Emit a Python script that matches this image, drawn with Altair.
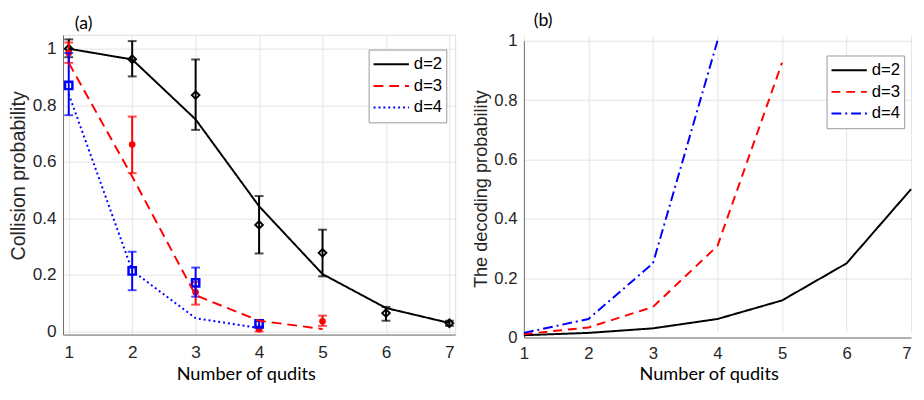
import altair as alt
import pandas as pd

# ---------------- data ----------------
qudits = [1, 2, 3, 4, 5, 6, 7]
series = ["d=2", "d=3", "d=4"]
series_colors = ["#000000", "#ff0000", "#0000ff"]

# (a) theoretical collision probability (lines)
a_theory_d2 = [1.0, 0.962, 0.75, 0.443, 0.203, 0.083, 0.03]
a_theory_d3 = [0.95, 0.548, 0.128, 0.038, 0.009]
a_theory_d4 = [0.84, 0.215, 0.047, 0.012]

# (a) measured collision probability with error bars
a_exp_d2 = [1.0, 0.963, 0.836, 0.377, 0.278, 0.065, 0.029]
a_lo_d2 = [0.97, 0.902, 0.713, 0.276, 0.195, 0.038, 0.02]
a_hi_d2 = [1.033, 1.027, 0.962, 0.479, 0.36, 0.087, 0.038]

a_exp_d3 = [0.985, 0.661, 0.139, 0.008, 0.036]
a_lo_d3 = [0.95, 0.56, 0.095, 0.0, 0.02]
a_hi_d3 = [1.022, 0.76, 0.175, 0.015, 0.056]

a_exp_d4 = [0.87, 0.214, 0.172, 0.027]
a_lo_d4 = [0.765, 0.146, 0.123, 0.018]
a_hi_d4 = [0.985, 0.282, 0.226, 0.036]

# (b) decoding probability
b_d2 = [0.0078, 0.0156, 0.031, 0.0625, 0.125, 0.25, 0.5]
b_d3 = [0.0114, 0.034, 0.103, 0.309, 0.926]
b_d4 = [0.0156, 0.0625, 0.25, 1.0]

a_ticks_y = [0, 0.2, 0.4, 0.6, 0.8, 1]

# ---------------- tables ----------------
def lines_df(pairs):
    rows = []
    for name, vals in pairs:
        for n, v in zip(qudits, vals):
            rows.append({"n": n, "p": v, "d": name})
    return pd.DataFrame(rows)


def exp_df(name, vals, lo, hi):
    return pd.DataFrame({"n": qudits[:len(vals)], "p": vals, "lo": lo, "hi": hi, "d": name})


theory_a = lines_df([("d=2", a_theory_d2), ("d=3", a_theory_d3), ("d=4", a_theory_d4)])
exp_a = [
    exp_df("d=2", a_exp_d2, a_lo_d2, a_hi_d2),
    exp_df("d=3", a_exp_d3, a_lo_d3, a_hi_d3),
    exp_df("d=4", a_exp_d4, a_lo_d4, a_hi_d4),
]
theory_b = lines_df([("d=2", b_d2), ("d=3", b_d3), ("d=4", b_d4)])

# ---------------- styling ----------------
FONT = "Liberation Sans"
TFONT = "Lato"
GRID = "#e3e3e3"
DOMAIN = "#6e6e6e"
LABEL = "#262626"


def make_legend(lx, ly):
    return alt.Legend(
        title=None, orient="none", legendX=lx, legendY=ly, direction="vertical",
        symbolType="stroke", symbolSize=1296, symbolStrokeWidth=2, clipHeight=22,
        labelFont=FONT, labelFontSize=17, labelColor="black", labelOffset=4,
        padding=4, rowPadding=0, strokeColor="#999999", fillColor="white",
    )


def x_axis(title_x, title_y, label_pad, size, align="center"):
    return alt.Axis(
        values=qudits, format="d", title="Number of qudits",
        titleFont=TFONT, titleFontSize=18.5, titleFontWeight="normal", titleColor="black",
        titleX=title_x, titleY=title_y, titleBaseline="middle", titleAlign="center",
        labelFont=FONT, labelFontSize=size, labelColor=LABEL, labelPadding=label_pad,
        labelAlign=align,
        labelFlush=False, labelOverlap=False, ticks=False,
        grid=True, gridColor=GRID, domainColor=DOMAIN, domainWidth=1,
    )


def y_axis(title, title_x, title_y, title_size, size):
    return alt.Axis(
        values=a_ticks_y, format=".1~f", title=title,
        titleFont=FONT, titleFontSize=title_size, titleFontWeight="normal", titleColor=LABEL,
        titleX=title_x, titleY=title_y, titleBaseline="middle", titleAlign="center", titleAngle=270,
        labelFont=FONT, labelFontSize=size, labelColor=LABEL, labelPadding=7,
        labelOverlap=False, ticks=False,
        grid=True, gridColor=GRID, domainColor=DOMAIN, domainWidth=1,
    )


# ---------------- panel (a) ----------------
xs_a = alt.Scale(domain=[0.91, 7.09], nice=False, zero=False)
ys_a = alt.Scale(domain=[-0.011, 1.049], nice=False, zero=False)
xa_axis = x_axis(186, 40, 9, 17.5)
ya_axis = y_axis("Collision probability", -44.7, 143, 20, 17.5)
leg_a = make_legend(311, 15)

lines_a = alt.Chart(theory_a).mark_line(strokeWidth=2).encode(
    x=alt.X("n:Q", scale=xs_a, axis=xa_axis),
    y=alt.Y("p:Q", scale=ys_a, axis=ya_axis),
    color=alt.Color("d:N", scale=alt.Scale(domain=series, range=series_colors), legend=leg_a),
    strokeDash=alt.StrokeDash("d:N", scale=alt.Scale(domain=series, range=[[1, 0], [10, 6], [2, 3]]), legend=leg_a),
)

marker_styles = [
    dict(shape="diamond", filled=False, size=60, strokeWidth=2),
    dict(shape="circle", filled=True, size=45),
    dict(shape="square", filled=False, size=55, strokeWidth=2.5),
]

layers_a = []
for df, col, ms in zip(exp_a, series_colors, marker_styles):
    base = alt.Chart(df)
    xe = alt.X("n:Q", scale=xs_a, axis=xa_axis)
    bar = base.mark_rule(color=col, strokeWidth=2).encode(
        x=xe, y=alt.Y("lo:Q", scale=ys_a, axis=ya_axis), y2="hi:Q")
    cap_lo = base.mark_tick(orient="horizontal", size=9, thickness=2, color=col).encode(
        x=xe, y=alt.Y("lo:Q", scale=ys_a, axis=ya_axis))
    cap_hi = base.mark_tick(orient="horizontal", size=9, thickness=2, color=col).encode(
        x=xe, y=alt.Y("hi:Q", scale=ys_a, axis=ya_axis))
    pts = base.mark_point(color=col, opacity=1, **ms).encode(
        x=xe, y=alt.Y("p:Q", scale=ys_a, axis=ya_axis))
    layers_a += [bar, cap_lo, cap_hi, pts]

panel_a = alt.layer(*layers_a, lines_a).properties(
    width=399, height=305,
    title=alt.TitleParams("(a)", anchor="start", dx=12, offset=2, frame="group",
                          font=TFONT, fontSize=18, fontWeight="normal", color="black"),
)

# ---------------- panel (b) ----------------
# plot group is 308 px tall; the value axis runs from 6 px below its top to its bottom
xs_b = alt.Scale(domain=[1, 7], nice=False, zero=False)
ys_b = alt.Scale(domain=[0, 1], nice=False, zero=False, range=[308, 6])
leg_b = make_legend(308, 21)
last_label_right = {"condition": {"test": "datum.value >= 7", "value": "right"}, "value": "center"}

panel_b = alt.Chart(theory_b).mark_line(strokeWidth=2).encode(
    x=alt.X("n:Q", scale=xs_b, axis=x_axis(188, 37, 8, 17, last_label_right)),
    y=alt.Y("p:Q", scale=ys_b, axis=y_axis("The decoding probability", -44, 156.5, 18.5, 17)),
    color=alt.Color("d:N", scale=alt.Scale(domain=series, range=series_colors), legend=leg_b),
    strokeDash=alt.StrokeDash("d:N", scale=alt.Scale(domain=series, range=[[1, 0], [9, 6], [10, 4, 2, 4]]), legend=leg_b),
).properties(
    width=394, height=308,
    view=alt.ViewBackground(stroke="transparent"),
    title=alt.TitleParams("(b)", anchor="start", dx=10, offset=2, frame="group",
                          font=TFONT, fontSize=18, fontWeight="normal", color="black"),
)

chart = alt.hconcat(panel_a, panel_b, spacing=70, bounds="flush").properties(
    padding={"left": 0, "top": 0, "right": 0, "bottom": 0},
).resolve_scale(color="independent", strokeDash="independent").configure_view(
    stroke="#e3e3e3"
).configure(background="white")

chart.save("out.html", embed_options={"renderer": "svg", "actions": False})
